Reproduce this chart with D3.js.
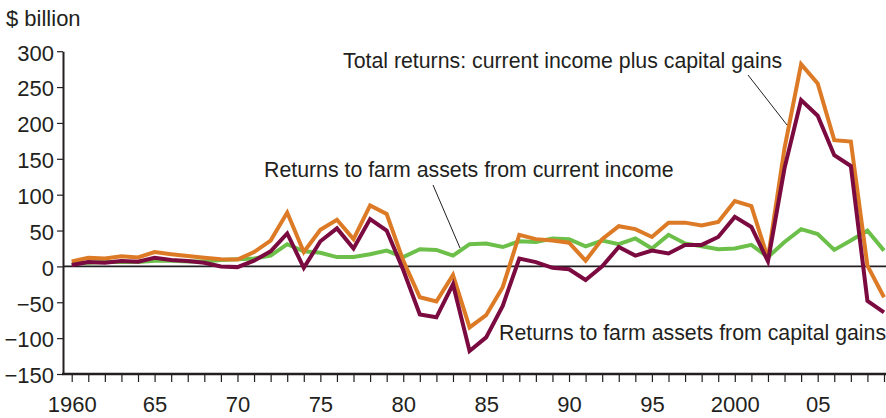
<!DOCTYPE html>
<html>
<head>
<meta charset="utf-8">
<script src="https://cdn.jsdelivr.net/npm/d3@7"></script>
<style>
  body { margin: 0; background: #fff; }
  svg text { font-family: "Liberation Sans", Arial, Helvetica, sans-serif; fill: #231f20; }
</style>
</head>
<body>
<svg id="myGraph" width="886" height="418"></svg>
<script>
var svgWidth = 886;
var svgHeight = 418;

// years on the x axis
var years = [1960, 1961, 1962, 1963, 1964, 1965, 1966, 1967, 1968, 1969,
  1970, 1971, 1972, 1973, 1974, 1975, 1976, 1977, 1978, 1979,
  1980, 1981, 1982, 1983, 1984, 1985, 1986, 1987, 1988, 1989,
  1990, 1991, 1992, 1993, 1994, 1995, 1996, 1997, 1998, 1999,
  2000, 2001, 2002, 2003, 2004, 2005, 2006, 2007, 2008, 2009];

// total returns ($ billion)
var totalReturns = [7, 12, 11, 14, 12.5, 20, 17, 14.5, 12, 10,
  9.5, 20, 36, 75, 20, 51, 65, 38, 85, 73,
  8, -43, -49, -12, -85, -68, -29, 44, 38, 36,
  33, 8, 38, 56, 52, 41, 61, 61, 57, 62,
  91, 84, 11, 165, 282, 255, 176, 174, 1, -43];

// returns from current income
var incomeReturns = [4, 5, 6, 6, 6, 8, 8, 7, 7, 9,
  10, 11, 15, 31, 21, 19, 13, 13, 17, 22,
  13, 24, 23, 15, 31, 32, 27, 35, 34, 39,
  38, 28, 36, 31, 39, 25, 44, 32, 28, 24,
  25, 30, 13, 34, 52, 45, 23, 36, 50, 22];

// returns from capital gains
var gainsReturns = [2, 6, 5, 7.5, 6.5, 12, 9, 7.5, 5, 0,
  -1, 8, 21, 46, -2, 35, 53, 25, 66, 50,
  -5, -67, -71, -25, -118, -99, -55, 11, 6, -2,
  -4, -19, 0, 27, 15, 22, 18, 30, 30, 41,
  69, 55, 7, 137, 232, 210, 155, 140, -48, -64];

var yTicks = [-150, -100, -50, 0, 50, 100, 150, 200, 250, 300];
var xLabels = { 1960: '1960', 1965: '65', 1970: '70', 1975: '75', 1980: '80',
  1985: '85', 1990: '90', 1995: '95', 2000: '2000', 2005: '05' };

var svg = d3.select('#myGraph');

var x = d3.scaleLinear().domain([1960, 2009]).range([71.7, 884]);
var y = d3.scaleLinear().domain([-150, 300]).range([374, 51.2]);
var axisX = 63;

// y axis
var yAxis = svg.append('g')
  .attr('transform', 'translate(' + axisX + ',0)')
  .call(d3.axisLeft(y).tickValues(yTicks).tickSize(6).tickSizeOuter(0).tickPadding(3));
yAxis.select('.domain').attr('stroke', '#231f20').attr('stroke-width', 2);
yAxis.selectAll('.tick line').attr('stroke', '#231f20').attr('stroke-width', 1.2);
yAxis.selectAll('.tick text')
  .style('font-size', '22px')
  .style('font-family', '"Liberation Sans", Arial, sans-serif')
  .attr('fill', '#231f20')
  .attr('dy', '0.4em');

// x axis
var xAxis = svg.append('g')
  .attr('transform', 'translate(0,' + y(-150) + ')')
  .call(d3.axisBottom(x).tickValues(years).tickSize(8).tickSizeOuter(0).tickPadding(14)
    .tickFormat(function(d) { return xLabels[d] || ''; }));
xAxis.select('.domain').remove();
xAxis.append('line')
  .attr('x1', axisX - 1).attr('x2', svgWidth)
  .attr('y1', 0).attr('y2', 0)
  .attr('stroke', '#231f20').attr('stroke-width', 2.5);
xAxis.selectAll('.tick line').attr('stroke', '#231f20').attr('stroke-width', 1.2);
xAxis.selectAll('.tick text')
  .style('font-size', '22px')
  .style('font-family', '"Liberation Sans", Arial, sans-serif')
  .attr('fill', '#231f20');

// zero line
svg.append('line')
  .attr('x1', axisX).attr('x2', svgWidth)
  .attr('y1', y(0)).attr('y2', y(0))
  .attr('stroke', '#231f20').attr('stroke-width', 1.8);

// unit label
svg.append('text')
  .attr('x', 6).attr('y', 26)
  .style('font-size', '22px')
  .text('$ billion');

var line = d3.line()
  .x(function(d, i) { return x(years[i]); })
  .y(function(d) { return y(d); });

var series = [
  { values: incomeReturns, color: '#6cc04a' },
  { values: totalReturns, color: '#dc7a26' },
  { values: gainsReturns, color: '#7a0a3f' }
];

svg.selectAll('path.series')
  .data(series)
  .enter()
  .append('path')
  .attr('class', 'series')
  .attr('d', function(d) { return line(d.values); })
  .attr('fill', 'none')
  .attr('stroke', function(d) { return d.color; })
  .attr('stroke-width', 4)
  .attr('stroke-linejoin', 'miter');

// annotations
var notes = [
  { text: 'Total returns: current income plus capital gains', x: 343, y: 68 },
  { text: 'Returns to farm assets from current income', x: 264, y: 177 },
  { text: 'Returns to farm assets from capital gains', x: 499, y: 340 }
];
svg.selectAll('text.note')
  .data(notes)
  .enter()
  .append('text')
  .attr('class', 'note')
  .attr('x', function(d) { return d.x; })
  .attr('y', function(d) { return d.y; })
  .style('font-size', '21.3px')
  .text(function(d) { return d.text; });

var leaders = [
  { x1: 748, y1: 75, x2: 787, y2: 125 },
  { x1: 433, y1: 185, x2: 460, y2: 248 }
];
svg.selectAll('line.leader')
  .data(leaders)
  .enter()
  .append('line')
  .attr('class', 'leader')
  .attr('x1', function(d) { return d.x1; })
  .attr('y1', function(d) { return d.y1; })
  .attr('x2', function(d) { return d.x2; })
  .attr('y2', function(d) { return d.y2; })
  .attr('stroke', '#231f20')
  .attr('stroke-width', 1);
</script>
</body>
</html>
